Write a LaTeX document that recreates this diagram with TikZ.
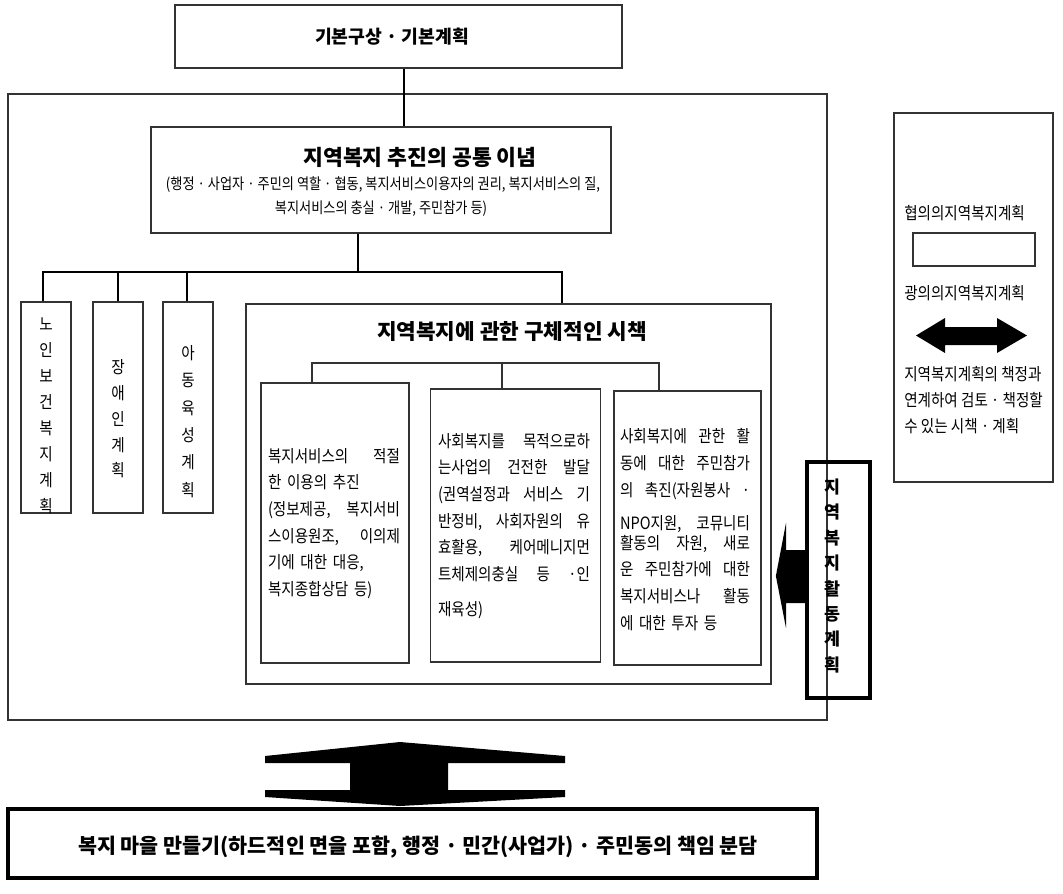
\documentclass[tikz,border=0pt]{standalone}
\usepackage{fontspec}
\setmainfont{Noto Sans CJK KR}
\newfontfamily\nfont{Noto Sans CJK KR}[FakeStretch=0.86]
\usetikzlibrary{calc}
\newcommand\jl[2]{\leavevmode\hbox to #1{#2}}
\begin{document}
\begin{tikzpicture}[x=0.75pt,y=-0.75pt,
  box/.style={draw=black!80, line width=0.8pt, inner sep=0pt},
  thickbox/.style={draw=black, line width=3.2pt, inner sep=0pt},
  conn/.style={line width=2.2pt, line cap=butt},
  thinconn/.style={line width=0.8pt, draw=black!80},
  bodytext/.style={font=\nfont\fontsize{12.7}{20}\selectfont, inner sep=0pt, align=left},
  vert/.style={align=center, inner sep=0pt}]
\useasboundingbox (0,0) rectangle (1063,893);

% top box
\node[box, minimum width=335.25pt, minimum height=47.25pt] (top) at (398.5,36.5) {};
\node[inner sep=0pt, font=\fontsize{13.7}{16}\selectfont\bfseries] (topt) at (392,37) {기본구상 · 기본계획};

% outer container
\node[box, minimum width=614.25pt, minimum height=469.5pt] (outer) at (417.5,407) {};

% common idea box
\node[box, minimum width=345pt, minimum height=79.5pt] (common) at (381,180) {};
\node[inner sep=0pt, font=\fontsize{16.2}{18}\selectfont\bfseries] (ct) at (420,157) {지역복지 추진의 공통 이념};
\node[inner sep=0pt, font=\nfont\fontsize{11.5}{13}\selectfont] (cs1) at (383,185) {(행정 · 사업자 · 주민의 역할 · 협동, 복지서비스이용자의 권리, 복지서비스의 질,};
\node[inner sep=0pt, font=\nfont\fontsize{11.5}{13}\selectfont] (cs2) at (381,209) {복지서비스의 충실 · 개발, 주민참가 등)};

% vertical plan boxes
\node[box, minimum width=37.5pt, minimum height=158.25pt] (old) at (46,407.5) {};
\node[box, minimum width=37.5pt, minimum height=158.25pt] (dis) at (118,407.5) {};
\node[box, minimum width=37.5pt, minimum height=158.25pt] (chi) at (188,407.5) {};
\node[vert, font=\nfont\fontsize{12.7}{19.5}\selectfont] (oldt) at (46,416) {노\\인\\보\\건\\복\\지\\계\\획};
\node[vert, font=\nfont\fontsize{12.7}{19.3}\selectfont] (dist) at (118,419) {장\\애\\인\\계\\획};
\node[vert, font=\nfont\fontsize{12.7}{20.5}\selectfont] (chit) at (188,421.5) {아\\동\\육\\성\\계\\획};

% concrete measures box
\node[box, minimum width=393.75pt, minimum height=285pt] (spec) at (508.5,494) {};
\node[inner sep=0pt, font=\fontsize{16}{18}\selectfont\bfseries] (spect) at (512,332) {지역복지에 관한 구체적인 시책};

\node[box, minimum width=111pt, minimum height=210pt] (c1) at (335,523) {};
\node[box, minimum width=127.5pt, minimum height=204.75pt] (c2) at (515.5,525.5) {};
\node[box, minimum width=110.25pt, minimum height=205.5pt] (c3) at (687.5,528) {};

\node[bodytext, text width=99pt] (c1t) at (334,523.5) {%
\jl{99pt}{복지서비스의 \hfill 적절}\\
한 이용의 추진\\
\jl{99pt}{(정보제공, \hfill 복지서비}\\
\jl{99pt}{스이용원조, \hfill 이의제}\\
기에 대한 대응,\\
복지종합상담 등)};

\node[bodytext, text width=114pt] (c2t) at (514,526) {%
\jl{114pt}{사회복지를 \hfill 목적으로하}\\
\jl{114pt}{는사업의 \hfill 건전한 \hfill 발달}\\
\jl{114pt}{(권역설정과 \hfill 서비스 \hfill 기}\\
\jl{114pt}{반정비, \hfill 사회자원의 \hfill 유}\\
\jl{114pt}{효활용, \hfill 케어메니지먼}\\
\jl{114pt}{트체제의충실 \hfill 등 \hfill ·인}\\[6.2pt]
재육성)};

\node[bodytext, text width=97.5pt] (c3t) at (685,529.5) {%
\jl{97.5pt}{사회복지에 \hfill 관한 \hfill 활}\\
\jl{97.5pt}{동에 \hfill 대한 \hfill 주민참가}\\
\jl{97.5pt}{의 \hfill 촉진(자원봉사 \hfill ·}\\[4.7pt]
\jl{97.5pt}{NPO지원, \hfill 코뮤니티}\\[-5pt]
\jl{97.5pt}{활동의 \hfill 자원, \hfill 새로}\\
\jl{97.5pt}{운 \hfill 주민참가에 \hfill 대한}\\
\jl{97.5pt}{복지서비스나 \hfill 활동}\\
에 대한 투자 등};

% activity plan (thick vertical box)
\node[thickbox, minimum width=47.25pt, minimum height=177pt] (act) at (838.5,580) {};
\node[vert, font=\fontsize{13}{19.05}\selectfont\bfseries] (actt) at (832,576) {지\\역\\복\\지\\활\\동\\계\\획};
\fill (act.west |- 0,576) ++(-29,0) coordinate (atip)
  (atip) -- (786,523) -- (786,550) -- (act.west |- 0,550) -- (act.west |- 0,603) -- (786,603) -- (786,628) -- cycle;

% legend
\node[box, minimum width=119.25pt, minimum height=276.75pt] (leg) at (973.5,297.5) {};
\node[anchor=west, inner sep=0pt, font=\nfont\fontsize{12.7}{14}\selectfont] (leg1) at (904,213) {협의의지역복지계획};
\node[box, minimum width=91.5pt, minimum height=24.75pt] (legbox) at (974,249.5) {};
\node[anchor=west, inner sep=0pt, font=\nfont\fontsize{12.7}{14}\selectfont] (leg2) at (904,293) {광의의지역복지계획};
\fill (916,335.5) -- (945,318) -- (945,327) -- (997,327) -- (997,318) -- (1027,335.5)
  -- (997,353) -- (997,345) -- (945,345) -- (945,353) -- cycle;
\node[anchor=west, inner sep=0pt, align=left, font=\nfont\fontsize{12.7}{19.5}\selectfont] (leg3) at (904,400)
  {지역복지계획의 책정과\\연계하여 검토 · 책정할\\수 있는 시책 · 계획};

% bottom box
\node[thickbox, minimum width=606.75pt, minimum height=51.75pt] (town) at (412.5,843.5) {};
\node[inner sep=0pt, font=\fontsize{15.5}{18}\selectfont\bfseries] (townt) at (418,847)
  {복지 마을 만들기(하드적인 면을 포함, 행정 · 민간(사업가) · 주민동의 책임 분담};
% bottom double arrow
\fill (400,742) -- (265,756) -- (265,763) -- (350,763) -- (350,790) -- (265,790) -- (265,797)
  -- (400,806) -- (565,797) -- (565,790) -- (448,790) -- (448,763) -- (565,763) -- (565,756) -- cycle;

% connectors
\coordinate (s1) at (404,0);
\draw[conn] (top.south -| s1) -- (common.north -| s1);
\coordinate (j0) at (358,272);
\coordinate (b1) at (43,272);
\coordinate (b4) at (562,272);
\draw[conn] (common.south -| j0) -- (j0);
\draw[conn] (old.north -| b1) -- (b1) -- (b4) -- (spec.north -| b4);
\draw[conn] (dis.north) -- (dis.north |- b1);
\draw[conn] (chi.north -| 187,0) -- (b1 -| 187,0);
\coordinate (t1) at (312,363);
\coordinate (t2) at (502,363);
\coordinate (t3) at (659,363);
\draw[thinconn] (c1.north -| t1) -- (t1) -- (t3) -- (c3.north -| t3);
\draw[thinconn] (t2) -- (c2.north -| t2);
\end{tikzpicture}
\end{document}
